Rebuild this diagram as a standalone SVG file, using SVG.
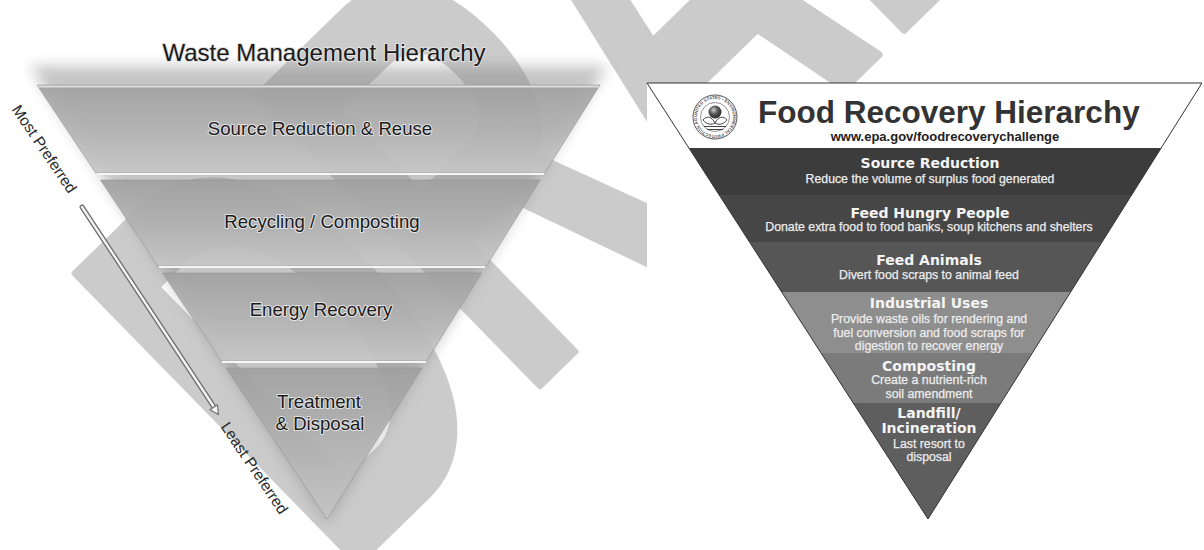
<svg xmlns="http://www.w3.org/2000/svg" width="1204" height="550" viewBox="0 0 1204 550">
<defs>
  <style>
    .lt{font-family:"Liberation Sans",Arial,sans-serif;fill:#1a1a1a;text-anchor:middle;stroke:#e2e2e2;stroke-width:2;paint-order:stroke;stroke-linejoin:round}
    .lbl{font-family:"Liberation Sans",Arial,sans-serif;font-size:15.5px;fill:#2a2a2a;text-anchor:middle}
    .rt{font-family:"DejaVu Sans",sans-serif;font-weight:bold;font-size:14px;fill:#f4f4f4;text-anchor:middle}
    .rd{font-family:"Liberation Sans",Arial,sans-serif;font-size:12.3px;fill:#ececec;stroke:#ececec;stroke-width:0.25;text-anchor:middle}
    .band{fill:url(#lb);stroke:#949494;stroke-width:0.6;fill-opacity:0.9}
    .hl{stroke:#f6f6f6;stroke-width:2.2}
  </style>
  <linearGradient id="lb" x1="0" y1="0" x2="0" y2="1">
    <stop offset="0" stop-color="#a0a0a0"/>
    <stop offset="0.55" stop-color="#b3b3b3"/>
    <stop offset="1" stop-color="#c7c7c7"/>
  </linearGradient>
  <filter id="blur" x="-20%" y="-20%" width="140%" height="140%"><feGaussianBlur stdDeviation="7"/></filter>
  <radialGradient id="sphere" cx="0.4" cy="0.35" r="0.7">
    <stop offset="0" stop-color="#d0d0d0"/><stop offset="0.45" stop-color="#5a5a5a"/><stop offset="1" stop-color="#222"/>
  </radialGradient>
  <path id="ring" d="M697,118 A18,18 0 1 1 733,118 A18,18 0 1 1 697,118"/>
</defs>
<rect width="1204" height="550" fill="#ffffff"/>

<!-- Watermark (behind the left figure, under the right figure) -->
<g id="watermark" opacity="0.2">
  <text transform="translate(340,580) rotate(-44.3) scale(0.6,1)" font-family="Liberation Sans, Arial, sans-serif" font-weight="bold" font-size="587" fill="#000" stroke="#000" stroke-width="8" stroke-linejoin="round">DRAFT</text>
</g>

<!-- LEFT: Waste Management Hierarchy -->
<g id="left-shadow">
  <polygon points="30,66 607,66 327,524" fill="#8c8c8c" opacity="0.5" filter="url(#blur)"/>
</g>
<g id="left-title">
  <text x="324" y="61" class="lt" font-size="24" stroke-width="1.5">Waste Management Hierarchy</text>
</g>
<g id="node-source-reduction">
  <polygon class="band" points="37,85 600,85 544.6,173 95.8,173"/>
  <line x1="38" y1="86.5" x2="599" y2="86.5" stroke="#dcdcdc" stroke-width="2"/>
  <line class="hl" x1="97" y1="174" x2="544" y2="174"/>
  <text x="320" y="135" class="lt" font-size="18.6">Source Reduction &amp; Reuse</text>
</g>
<g id="node-recycling">
  <polygon class="band" points="100.5,180 540.2,180 486.2,266 157.9,266"/>
  <line class="hl" x1="159" y1="267" x2="485" y2="267"/>
  <text x="322" y="228" class="lt" font-size="18.6">Recycling / Composting</text>
</g>
<g id="node-energy">
  <polygon class="band" points="162.6,273 481.7,273 426.4,361 221.4,361"/>
  <line class="hl" x1="222" y1="362" x2="426" y2="362"/>
  <text x="321" y="316" class="lt" font-size="18.6">Energy Recovery</text>
</g>
<g id="node-treatment">
  <polygon class="band" points="226,368 422,368 327,519"/>
  <text x="319" y="408" class="lt" font-size="18.6">Treatment</text>
  <text x="320" y="430" class="lt" font-size="18.6">&amp; Disposal</text>
</g>
<g id="labels">
  <text class="lbl" transform="translate(40,152) rotate(56)">Most Preferred</text>
  <text class="lbl" transform="translate(250,471) rotate(56)">Least Preferred</text>
</g>
<g id="connectors">
  <line x1="82" y1="207" x2="214" y2="407" stroke="#707070" stroke-width="5" stroke-linecap="round"/>
  <line x1="82" y1="207" x2="214" y2="407" stroke="#f4f4f4" stroke-width="2.3" stroke-linecap="round"/>
  <polygon points="218.5,414.5 217.4,404.8 209.9,409.8" fill="#f4f4f4" stroke="#707070" stroke-width="1.2" stroke-linejoin="round"/>
</g>

<!-- RIGHT: Food Recovery Hierarchy -->
<rect x="647" y="83" width="557" height="450" fill="#ffffff"/>
<g id="right-header">
  <polygon points="647,83 1202,83 1161.2,148 688.9,148" fill="#ffffff"/>
  <g id="epa-logo">
    <circle cx="715" cy="117" r="22" fill="#fff" stroke="#555" stroke-width="1"/>
    <circle cx="715" cy="117" r="14.5" fill="none" stroke="#777" stroke-width="0.8"/>
    <text font-family="Liberation Sans, Arial, sans-serif" font-size="4.3" fill="#555" font-weight="bold" transform="translate(0,-1)"><textPath href="#ring">UNITED STATES • ENVIRONMENTAL PROTECTION AGENCY •</textPath></text>
    <circle cx="715" cy="112" r="6.5" fill="url(#sphere)"/>
    <path d="M703,120 C707,115 712,117 715,123 C718,117 723,115 727,120 C723,125 718,125 715,123 C712,125 707,125 703,120 Z" fill="none" stroke="#444" stroke-width="1"/>
    <path d="M704,126.5 H726 M707,129.5 H723" stroke="#444" stroke-width="1.1"/>
  </g>
  <text x="758" y="122.5" font-family="Liberation Sans, Arial, sans-serif" font-weight="bold" font-size="31.5" fill="#333">Food Recovery Hierarchy</text>
  <text x="945" y="141" font-family="Liberation Sans, Arial, sans-serif" font-weight="bold" font-size="13" fill="#222" text-anchor="middle">www.epa.gov/foodrecoverychallenge</text>
</g>
<g id="node-r-source">
  <polygon points="688.9,148 1161.2,148 1131.6,195 719.2,195" fill="#3c3c3c"/>
  <text x="930" y="168" class="rt">Source Reduction</text>
  <text x="930" y="183" class="rd">Reduce the volume of surplus food generated</text>
</g>
<g id="node-r-hungry">
  <polygon points="719.2,195 1131.6,195 1102.1,242 749.5,242" fill="#464646"/>
  <text x="930" y="218" class="rt">Feed Hungry People</text>
  <text x="929" y="231" class="rd">Donate extra food to food banks, soup kitchens and shelters</text>
</g>
<g id="node-r-animals">
  <polygon points="749.5,242 1102.1,242 1070.7,292 781.7,292" fill="#565656"/>
  <text x="929" y="265" class="rt">Feed Animals</text>
  <text x="929" y="279" class="rd">Divert food scraps to animal feed</text>
</g>
<g id="node-r-industrial">
  <polygon points="781.7,292 1070.7,292 1032.3,353 821,353" fill="#8e8e8e"/>
  <text x="929" y="308" class="rt">Industrial Uses</text>
  <text x="929" y="323" class="rd">Provide waste oils for rendering and</text>
  <text x="929" y="336.5" class="rd">fuel conversion and food scraps for</text>
  <text x="929" y="350" class="rd">digestion to recover energy</text>
</g>
<g id="node-r-composting">
  <polygon points="821,353 1032.3,353 1000.9,403 853.2,403" fill="#7b7b7b"/>
  <text x="929" y="371" class="rt">Composting</text>
  <text x="929" y="384" class="rd">Create a nutrient-rich</text>
  <text x="929" y="398" class="rd">soil amendment</text>
</g>
<g id="node-r-landfill">
  <polygon points="853.2,403 1000.9,403 928,519" fill="#5e5e5e"/>
  <text x="929" y="418" class="rt">Landfill/</text>
  <text x="929" y="433" class="rt">Incineration</text>
  <text x="929" y="447.5" class="rd">Last resort to</text>
  <text x="929" y="460.5" class="rd">disposal</text>
</g>
<polygon points="647,83 1202,83 928,519" fill="none" stroke="#333" stroke-width="1"/>
</svg>
